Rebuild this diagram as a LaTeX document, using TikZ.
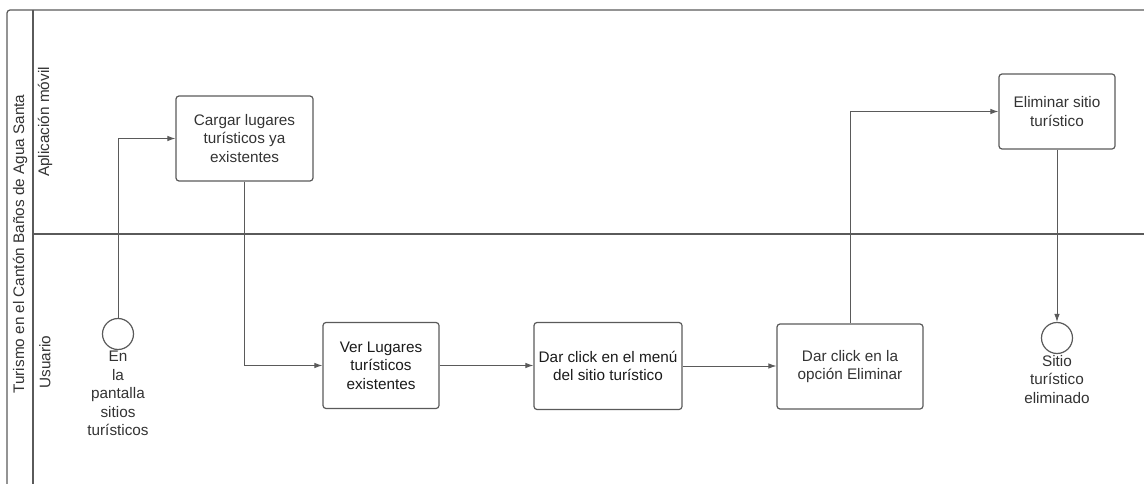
\documentclass[tikz,border=0pt]{standalone}
\usepackage{fontspec}
\setmainfont{Liberation Sans}
\usetikzlibrary{arrows.meta}
\definecolor{linegray}{HTML}{5A5A5A}
\definecolor{textgray}{HTML}{333333}
\definecolor{textdark}{HTML}{1A1A1A}
\begin{document}
\begin{tikzpicture}[x=1pt,y=-1pt,
  every node/.style={text=textgray,font=\fontsize{15.3}{18.5}\selectfont},
  task/.style={draw=linegray,line width=1.2pt,rounded corners=3pt,align=center,inner sep=2pt},
  darktask/.style={task,text=textdark},
  event/.style={draw=linegray,line width=1.2pt,circle,minimum size=31pt,inner sep=0pt},
  evlabel/.style={align=center,anchor=north,inner sep=1pt},
  flow/.style={draw=linegray,line width=0.9pt,-{Latex[length=8pt,width=5.5pt]}},
  frame/.style={draw=linegray,line width=1.2pt},
  lanelabel/.style={rotate=90}]
\useasboundingbox (0,0) rectangle (1144,484);
% pool frame and lane divider
\draw[frame,rounded corners=3pt] (7,484) -- (7,10) -- (1144,10);
\draw[frame] (33,10) -- (33,484);
\draw[frame] (33,234) -- (1144,234);
% pool and lane titles
\node[lanelabel] (pool) at (20,244) {Turismo en el Cantón Baños de Agua Santa};
\node[lanelabel] (laneapp) at (45,122) {Aplicación móvil};
\node[lanelabel] (laneuser) at (45,362) {Usuario};
% events
\node[event] (start) at (118,334) {};
\node[evlabel] (startlbl) at (start.south) {En\\la\\pantalla\\sitios\\turísticos};
\node[event] (end) at (1057,338) {};
\node[evlabel] (endlbl) at (end.south) {Sitio\\turístico\\eliminado};
% tasks
\node[task,minimum width=137pt,minimum height=85pt] (cargar) at (244.5,138.5) {Cargar lugares\\turísticos ya\\existentes};
\node[darktask,minimum width=116pt,minimum height=86pt] (ver) at (381,365.5) {Ver Lugares\\turísticos\\existentes};
\node[darktask,minimum width=148pt,minimum height=87pt] (menu) at (608,366) {Dar click en el menú\\del sitio turístico};
\node[task,minimum width=146pt,minimum height=85pt] (opcion) at (850,366.5) {Dar click en la\\opción Eliminar};
\node[task,minimum width=116pt,minimum height=75pt] (eliminar) at (1057,111.5) {Eliminar sitio\\turístico};
% sequence flows
\draw[flow] (start.north) |- (cargar.west);
\draw[flow] (cargar.south) |- (ver.west);
\draw[flow] (ver.east) -- (ver.east -| menu.west);
\draw[flow] (menu.east) -- (menu.east -| opcion.west);
\draw[flow] (opcion.north) |- (eliminar.west);
\draw[flow] (eliminar.south) -- (end.north);
\end{tikzpicture}
\end{document}
